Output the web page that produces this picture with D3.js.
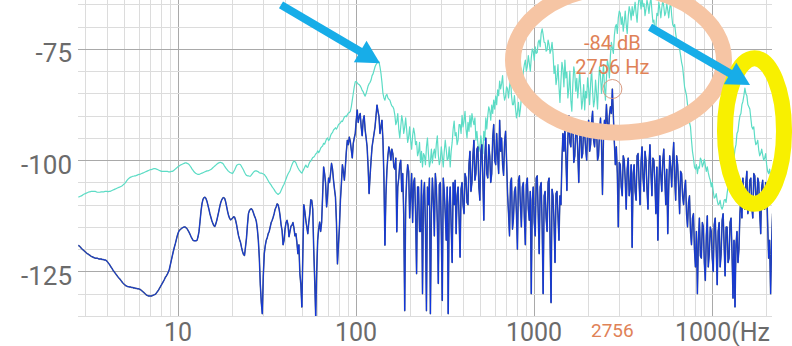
<!DOCTYPE html>
<html>
<head>
<meta charset="utf-8">
<script src="https://cdn.jsdelivr.net/npm/d3@7/dist/d3.min.js"></script>
<style>
  html, body { margin: 0; padding: 0; background: #fff; overflow: hidden; }
  svg { display: block; font-family: Roboto, "Noto Sans", sans-serif; }
</style>
</head>
<body>
<svg id="chart" width="792" height="346"></svg>
<script>
// Spectrum levels in dB, sampled on a log-frequency grid (PTS_PER_DECADE points per decade from F0)
const F0 = 2.756;
const PTS_PER_DECADE = 180;

const tealDb = [
  -108.3,-108.2,-108.1,-108.0,-107.9,-107.7,-107.6,-107.5,-107.4,-107.3,
  -107.2,-107.1,-107.1,-107.0,-107.0,-107.0,-107.0,-107.0,-107.1,-107.2,
  -107.2,-107.2,-107.2,-107.1,-107.1,-107.1,-107.1,-107.0,-107.0,-107.0,
  -107.1,-107.0,-107.0,-106.9,-106.8,-106.7,-106.6,-106.5,-106.4,-106.3,
  -106.2,-106.1,-106.0,-105.9,-105.8,-105.6,-105.4,-105.2,-104.9,-104.6,
  -104.3,-104.1,-103.9,-103.8,-103.7,-103.6,-103.6,-103.5,-103.5,-103.4,
  -103.3,-103.2,-103.2,-103.1,-103.0,-102.9,-102.8,-102.7,-102.6,-102.5,
  -102.4,-102.3,-102.2,-102.1,-102.1,-102.0,-101.9,-101.9,-101.9,-102.0,
  -102.1,-102.2,-102.3,-102.4,-102.5,-102.5,-102.5,-102.5,-102.5,-102.5,
  -102.5,-102.6,-102.6,-102.6,-102.5,-102.5,-102.4,-102.2,-102.0,-101.8,
  -101.6,-101.4,-101.3,-101.1,-101.0,-100.9,-100.8,-100.7,-100.6,-100.6,
  -100.7,-100.8,-101.0,-101.3,-101.6,-102.0,-102.3,-102.6,-102.8,-103.0,
  -103.1,-103.2,-103.2,-103.1,-103.0,-102.9,-102.8,-102.7,-102.6,-102.5,
  -102.4,-102.4,-102.3,-102.2,-102.1,-101.9,-101.7,-101.5,-101.3,-101.1,
  -100.9,-100.7,-100.6,-100.5,-100.5,-100.6,-100.7,-101.0,-101.4,-101.7,
  -102.0,-102.3,-102.5,-102.7,-102.8,-102.9,-103.0,-102.6,-102.2,-101.7,
  -101.2,-101.0,-100.9,-100.9,-101.0,-101.4,-101.8,-102.2,-102.7,-103.1,
  -103.4,-103.5,-103.5,-103.6,-103.6,-103.3,-103.0,-102.7,-102.5,-102.4,
  -102.4,-102.5,-102.6,-102.8,-102.9,-102.9,-103.0,-103.1,-103.2,-103.5,
  -103.8,-104.2,-104.6,-105.0,-105.3,-105.6,-106.0,-106.3,-106.6,-107.0,
  -107.3,-107.5,-107.7,-107.5,-107.3,-106.8,-106.3,-105.8,-105.4,-104.8,
  -104.2,-103.6,-103.1,-102.7,-102.3,-101.6,-101.0,-100.5,-100.2,-100.3,
  -100.6,-101.2,-101.7,-102.1,-102.4,-102.7,-102.9,-102.4,-102.0,-101.5,
  -101.1,-101.5,-101.6,-100.9,-100.4,-100.2,-99.8,-99.4,-99.3,-99.0,
  -98.6,-98.4,-97.9,-98.3,-97.9,-97.3,-97.0,-96.8,-96.2,-96.4,
  -95.8,-95.2,-95.0,-95.6,-95.3,-94.5,-94.0,-93.8,-93.2,-93.0,
  -92.7,-93.0,-92.6,-92.0,-91.8,-91.6,-91.2,-91.3,-90.8,-90.3,
  -90.1,-90.2,-89.8,-89.4,-89.3,-89.0,-88.0,-86.5,-85.0,-83.5,
  -82.4,-82.3,-82.6,-82.9,-83.0,-83.3,-83.7,-84.3,-84.6,-85.2,
  -85.6,-85.0,-84.2,-83.3,-82.8,-82.5,-82.0,-81.0,-80.6,-79.8,
  -79.0,-78.5,-78.2,-77.8,-77.9,-79.0,-80.5,-82.5,-85.0,-86.0,
  -86.5,-85.5,-85.2,-86.0,-86.3,-86.5,-87.2,-87.8,-88.0,-88.5,
  -89.8,-92.0,-91.3,-89.5,-93.0,-95.0,-92.5,-90.0,-91.3,-94.0,
  -92.6,-90.5,-93.2,-96.0,-94.8,-92.5,-95.5,-97.5,-94.5,-92.8,
  -94.0,-96.5,-95.8,-99.0,-98.2,-96.0,-100.5,-98.0,-101.5,-98.5,
  -99.0,-101.0,-97.0,-95.0,-98.6,-101.5,-100.3,-97.5,-100.6,-98.5,
  -97.5,-99.5,-96.3,-94.5,-98.8,-101.0,-100.0,-97.0,-99.2,-101.5,
  -98.0,-95.5,-97.6,-100.0,-99.6,-97.0,-101.5,-98.0,-96.0,-93.0,
  -91.2,-94.5,-93.8,-96.5,-95.5,-92.0,-92.0,-94.0,-89.9,-92.5,
  -91.2,-89.0,-93.0,-95.0,-91.5,-93.5,-90.0,-92.5,-89.5,-91.0,
  -92.0,-90.5,-95.5,-93.5,-96.2,-98.0,-97.0,-94.5,-96.8,-98.5,
  -93.5,-95.5,-90.5,-93.0,-90.0,-88.0,-88.8,-91.0,-87.6,-89.5,
  -86.5,-88.5,-85.6,-87.5,-84.2,-85.5,-82.2,-84.0,-82.8,-81.0,
  -84.8,-86.5,-85.7,-83.5,-84.0,-86.0,-83.5,-81.5,-85.5,-87.5,
  -87.5,-85.5,-88.2,-90.5,-89.2,-87.0,-90.2,-88.5,-86.0,-83.0,
  -80.0,-78.5,-77.5,-80.0,-78.9,-76.5,-78.2,-80.0,-77.0,-75.0,
  -75.5,-77.5,-74.5,-76.0,-75.8,-73.5,-73.0,-74.5,-71.5,-70.5,
  -71.8,-73.5,-73.6,-75.5,-75.2,-73.0,-74.0,-76.0,-75.2,-73.5,
  -76.0,-80.5,-78.8,-83.0,-81.5,-78.5,-83.5,-87.0,-82.2,-78.0,
  -79.5,-83.5,-77.5,-81.5,-80.2,-86.0,-83.8,-80.0,-86.5,-89.0,
  -83.0,-79.0,-80.5,-84.5,-81.6,-86.0,-83.2,-80.0,-84.2,-88.5,
  -86.5,-83.0,-88.7,-84.5,-86.0,-81.5,-84.0,-87.5,-82.7,-79.5,
  -84.5,-88.0,-86.5,-82.0,-85.0,-88.5,-82.8,-79.0,-81.2,-85.0,
  -82.0,-78.5,-83.5,-86.5,-81.5,-77.5,-78.8,-81.5,-76.5,-73.5,
  -74.8,-76.0,-72.0,-70.0,-69.5,-71.5,-68.0,-66.5,-67.0,-69.5,
  -67.8,-71.0,-69.0,-66.5,-69.5,-71.5,-67.8,-65.5,-66.5,-68.5,
  -65.5,-67.5,-66.2,-64.5,-67.0,-69.0,-65.5,-63.5,-64.0,-66.0,
  -63.5,-65.5,-64.8,-67.5,-66.0,-64.0,-65.2,-67.0,-64.8,-63.5,
  -66.5,-69.0,-68.5,-71.5,-70.0,-67.0,-67.5,-64.5,-66.0,-68.0,
  -65.8,-64.0,-65.5,-67.5,-66.8,-64.8,-66.2,-68.0,-65.7,-64.5,
  -67.5,-69.5,-70.0,-69.5,-71.5,-73.0,-73.5,-73.0,-75.0,-76.5,
  -78.0,-79.0,-81.2,-83.5,-84.5,-85.5,-87.5,-90.0,-91.5,-92.5,
  -95.5,-98.0,-99.5,-101.5,-102.0,-101.0,-103.0,-101.5,-101.8,-99.5,
  -100.0,-101.5,-100.8,-99.8,-101.2,-102.5,-101.5,-102.8,-103.8,-104.5,
  -106.0,-105.0,-107.0,-108.5,-108.3,-107.5,-109.0,-110.0,-109.8,-109.0,
  -110.5,-111.0,-110.3,-109.0,-108.8,-109.5,-107.5,-106.0,-105.0,-105.5,
  -102.5,-103.0,-100.5,-99.5,-97.5,-96.5,-94.0,-93.5,-91.5,-90.0,
  -89.5,-87.5,-86.8,-85.5,-83.8,-85.0,-85.5,-87.5,-88.0,-88.5,
  -90.5,-92.5,-93.0,-92.5,-95.0,-96.5,-96.2,-95.5,-97.7,-99.0,
  -98.5,-97.5,-98.8,-100.0,-99.5,-98.5,-101.0,-102.5,-103.0,-102.0,
  -103.5,-104.5,-104.0
];

const blueDb = [
  -119.1,-119.3,-119.5,-119.8,-120.0,-120.2,-120.4,-120.6,-120.8,-121.0,
  -121.1,-121.3,-121.4,-121.6,-121.7,-121.8,-121.9,-122.0,-122.0,-122.0,
  -122.1,-122.2,-122.2,-122.2,-122.3,-122.3,-122.4,-122.4,-122.5,-122.7,
  -123.0,-123.3,-123.6,-124.0,-124.3,-124.7,-125.0,-125.3,-125.6,-125.9,
  -126.2,-126.5,-126.7,-127.0,-127.3,-127.6,-127.8,-128.0,-128.2,-128.3,
  -128.4,-128.4,-128.5,-128.5,-128.6,-128.6,-128.7,-128.7,-128.8,-128.8,
  -128.9,-128.9,-129.0,-129.1,-129.3,-129.5,-129.7,-129.9,-130.1,-130.3,
  -130.4,-130.5,-130.5,-130.5,-130.5,-130.4,-130.3,-130.2,-130.1,-129.8,
  -129.5,-129.2,-128.8,-128.4,-128.0,-127.6,-127.2,-126.8,-126.3,-126.0,
  -125.6,-125.1,-124.5,-123.5,-122.5,-121.5,-120.5,-119.6,-118.8,-117.9,
  -117.0,-116.3,-115.8,-115.6,-115.4,-115.2,-115.1,-115.0,-115.0,-115.2,
  -115.4,-115.8,-116.2,-116.7,-117.2,-117.6,-118.0,-118.1,-118.1,-118.1,
  -118.0,-117.2,-116.0,-113.8,-111.5,-109.8,-108.8,-108.4,-108.3,-108.6,
  -109.2,-110.1,-111.0,-112.0,-112.8,-113.6,-114.2,-114.7,-114.9,-114.3,
  -113.5,-112.5,-111.5,-110.4,-109.5,-108.9,-108.5,-108.4,-108.6,-109.4,
  -110.5,-111.6,-112.5,-113.1,-113.4,-113.2,-113.0,-112.7,-112.8,-113.5,
  -114.5,-115.8,-117.0,-117.8,-118.5,-119.6,-120.5,-121.2,-121.4,-119.5,
  -117.5,-114.5,-112.0,-111.3,-111.0,-110.9,-111.2,-111.8,-112.5,-113.0,
  -113.8,-115.5,-118.0,-122.0,-128.0,-132.0,-134.5,-126.0,-121.0,-119.2,
  -118.0,-117.4,-116.5,-116.0,-115.0,-114.0,-113.5,-112.8,-112.0,-111.0,
  -110.5,-109.8,-110.0,-111.0,-112.5,-114.5,-115.8,-119.0,-118.0,-115.5,
  -114.0,-113.5,-114.5,-117.2,-116.0,-114.8,-114.6,-114.0,-115.2,-117.0,
  -116.5,-118.5,-121.0,-119.0,-125.5,-128.0,-133.0,-121.0,-110.0,-111.5,
  -113.5,-115.0,-116.5,-114.0,-112.0,-108.9,-109.0,-111.0,-120.0,-127.0,
  -135.3,-125.0,-118.0,-115.5,-113.9,-116.0,-114.0,-108.0,-101.5,-103.0,
  -105.2,-110.5,-108.0,-104.0,-105.0,-103.0,-100.7,-102.0,-104.5,-106.5,
  -108.3,-114.0,-123.3,-119.0,-115.0,-109.0,-105.2,-101.0,-102.5,-104.5,
  -101.5,-98.0,-95.5,-96.5,-94.8,-95.8,-97.7,-99.5,-96.2,-95.0,
  -94.0,-91.0,-88.7,-91.5,-90.2,-89.5,-92.5,-94.5,-91.0,-90.0,
  -93.2,-95.0,-97.0,-101.5,-107.5,-103.5,-100.0,-97.0,-95.5,-94.0,
  -92.5,-90.0,-87.6,-89.0,-90.2,-94.0,-92.5,-91.0,-95.5,-104.0,
  -119.1,-108.0,-102.3,-99.0,-97.0,-98.0,-100.0,-97.5,-98.5,-101.5,
  -102.0,-99.5,-116.1,-106.0,-104.0,-101.0,-100.0,-107.0,-103.0,-112.0,
  -133.8,-110.0,-104.0,-101.0,-102.5,-113.0,-108.0,-103.0,-114.0,-105.0,
  -104.0,-112.0,-125.5,-106.0,-106.0,-116.0,-116.0,-104.5,-130.0,-108.0,
  -105.0,-115.0,-133.8,-106.0,-110.0,-104.0,-134.5,-112.0,-104.0,-109.0,
  -117.0,-103.0,-106.0,-114.0,-127.7,-105.5,-105.0,-116.0,-131.5,-104.0,
  -107.0,-112.0,-118.0,-106.0,-134.5,-110.0,-106.0,-115.0,-123.0,-105.0,
  -110.0,-104.5,-116.5,-108.0,-106.0,-113.0,-121.8,-106.5,-105.0,-110.0,
  -112.0,-103.0,-104.0,-109.5,-110.0,-101.0,-98.0,-107.0,-105.0,-99.0,
  -95.5,-104.5,-103.0,-97.5,-97.0,-106.0,-109.0,-98.0,-96.5,-104.0,
  -113.5,-99.5,-95.0,-103.0,-104.0,-96.5,-99.0,-105.0,-103.0,-95.0,
  -92.0,-100.0,-101.0,-94.0,-99.0,-103.0,-91.0,-98.0,-95.0,-101.0,
  -103.4,-96.0,-93.5,-100.0,-107.5,-112.0,-117.0,-105.0,-104.0,-115.5,
  -113.0,-107.0,-106.0,-112.0,-120.0,-104.5,-103.5,-110.0,-115.0,-106.0,
  -105.0,-113.0,-119.0,-105.5,-104.0,-111.0,-113.5,-107.0,-130.0,-109.0,
  -106.0,-114.0,-117.0,-104.0,-103.5,-112.0,-121.0,-106.0,-105.0,-115.0,
  -130.0,-108.0,-107.0,-113.0,-116.0,-105.0,-104.0,-118.0,-132.0,-106.5,
  -108.0,-114.0,-123.0,-107.5,-107.0,-112.5,-118.0,-108.0,-110.0,-100.0,
  -94.0,-98.0,-93.0,-99.5,-106.8,-95.0,-90.0,-96.0,-97.0,-92.0,
  -91.5,-100.5,-99.0,-93.5,-93.0,-98.0,-105.0,-95.0,-92.0,-99.5,
  -98.5,-92.5,-94.0,-97.5,-100.0,-93.0,-91.0,-98.0,-96.5,-91.5,
  -89.0,-95.5,-97.0,-93.0,-92.5,-100.0,-99.0,-94.0,-90.5,-96.0,
  -107.7,-95.0,-91.0,-93.0,-87.5,-92.0,-94.0,-90.0,-88.0,-89.5,
  -84.0,-90.0,-96.0,-101.0,-97.0,-103.0,-115.0,-100.5,-101.0,-106.0,
  -108.0,-99.0,-100.0,-104.5,-111.0,-102.0,-99.5,-108.0,-106.0,-101.0,
  -119.6,-103.0,-101.0,-107.0,-109.0,-99.0,-98.5,-105.0,-110.0,-100.5,
  -97.0,-104.0,-107.0,-98.0,-100.0,-106.5,-111.0,-101.0,-96.5,-103.0,
  -108.0,-99.5,-100.0,-105.0,-112.0,-101.5,-118.0,-106.0,-99.0,-103.5,
  -107.0,-100.0,-97.5,-104.0,-110.0,-102.0,-116.5,-106.0,-99.0,-101.5,
  -106.0,-100.0,-96.0,-104.0,-109.0,-99.0,-101.0,-106.0,-112.0,-102.5,
  -103.0,-108.0,-110.0,-106.5,-104.5,-112.0,-115.0,-109.5,-108.0,-116.0,
  -119.0,-113.0,-112.0,-120.0,-124.0,-116.0,-130.0,-118.0,-113.0,-121.5,
  -122.0,-114.0,-115.0,-123.0,-127.0,-117.0,-112.5,-124.0,-121.0,-115.0,
  -116.0,-122.0,-125.0,-114.5,-113.0,-120.0,-128.0,-116.0,-114.0,-124.0,
  -121.0,-113.5,-112.0,-119.0,-126.0,-115.0,-115.0,-123.0,-122.0,-114.0,
  -113.0,-121.0,-131.0,-118.0,-133.0,-119.0,-116.0,-123.0,-120.0,-112.0,
  -108.0,-113.0,-104.0,-109.5,-111.0,-105.0,-102.5,-112.0,-109.0,-104.5,
  -104.0,-110.5,-113.0,-103.0,-103.5,-108.0,-110.0,-104.0,-105.0,-112.0,
  -116.5,-106.0,-104.5,-110.0,-111.0,-105.0,-106.0,-114.0,-122.0,-118.0,
  -130.0,-119.0,-112.0
];

// Axis ticks and labels
const yTicks = [-75, -100, -125];
const xTicks = [10, 100, 1000];
const xTickLabels = ["10", "100", "1000"];
const unitTick = { f: 10000, label: "1000(Hz" };

// Peak readout
const peak = { f: 2756, db: -84 };

// Highlight shapes, given as frequency / level bounds
const ringPeach = { f: [762, 11680], db: [-61.2, -93.8] };
const ringYellow = { f: [11830, 25380], db: [-77.1, -109.8] };
const arrows = [
  { from: [37.9, -65.1], to: [136.4, -78.2] },
  { from: [4484, -70.1], to: [16350, -83.1] }
];

const plot = { left: 78, right: 772, top: 0, bottom: 316 };

const x = d3.scaleLog().domain([2.743, 21730]).range([plot.left, plot.right]);
const y = d3.scaleLinear().domain([-135, -64]).range([plot.bottom, plot.top]);

const freqs = tealDb.map((_, i) => F0 * Math.pow(10, i / PTS_PER_DECADE));

const svg = d3.select("#chart");

svg.append("defs").append("clipPath").attr("id", "plotClip")
  .append("rect")
  .attr("x", plot.left).attr("y", plot.top)
  .attr("width", plot.right - plot.left).attr("height", plot.bottom - plot.top);

// Grid
const grid = svg.append("g");
const vLines = [];
[1, 10, 100, 1000, 10000].forEach(d => {
  for (let k = 1; k <= 9; k++) {
    const f = k * d;
    if (f >= x.domain()[0] && f <= x.domain()[1]) vLines.push({ f, major: k === 1 });
  }
});
grid.selectAll("line.v").data(vLines).join("line")
  .attr("x1", d => Math.round(x(d.f)) + 0.5).attr("x2", d => Math.round(x(d.f)) + 0.5)
  .attr("y1", plot.top).attr("y2", plot.bottom)
  .attr("stroke", d => d.major ? "#a9a9a9" : "#dcdcdc").attr("stroke-width", 1);

const hLines = d3.range(-135, -64, 5).map(v => ({ v, major: yTicks.includes(v) }));
grid.selectAll("line.h").data(hLines).join("line")
  .attr("x1", plot.left).attr("x2", plot.right)
  .attr("y1", d => Math.round(y(d.v)) + 0.5).attr("y2", d => Math.round(y(d.v)) + 0.5)
  .attr("stroke", d => d.major ? "#a9a9a9" : "#dcdcdc").attr("stroke-width", 1);

// Traces
const line = d3.line().x(d => x(d[0])).y(d => y(d[1]));
const traces = svg.append("g").attr("clip-path", "url(#plotClip)");

traces.append("path")
  .datum(freqs.map((f, i) => [f, tealDb[i]]))
  .attr("d", line).attr("fill", "none")
  .attr("stroke", "#5cdcc5").attr("stroke-width", 1.2).attr("stroke-linejoin", "round");

const blueData = freqs.map((f, i) => [f, blueDb[i]]);
traces.append("path").datum(blueData)
  .attr("d", line).attr("fill", "none")
  .attr("stroke", "#46587a").attr("stroke-width", 1.5).attr("stroke-linejoin", "round");
traces.append("path").datum(blueData)
  .attr("d", line).attr("fill", "none")
  .attr("stroke", "#0f34e2").attr("stroke-width", 0.9).attr("stroke-linejoin", "round");

// Axis labels
const labelColor = "#6b6b6b";
svg.append("g").selectAll("text").data(yTicks).join("text")
  .attr("x", 72).attr("y", d => y(d) + 13.5)
  .attr("text-anchor", "end").attr("font-size", 26).attr("fill", labelColor)
  .text(d => d);

svg.append("g").selectAll("text").data(xTicks).join("text")
  .attr("x", d => x(d)).attr("y", 341)
  .attr("text-anchor", "middle").attr("font-size", 25).attr("fill", labelColor)
  .text((d, i) => xTickLabels[i]);

svg.append("text")
  .attr("x", x(unitTick.f) - 37).attr("y", 341)
  .attr("text-anchor", "start").attr("font-size", 25).attr("fill", labelColor)
  .text(unitTick.label);

// Peak readout
const orange = "#df8257";
svg.append("text")
  .attr("x", x(peak.f)).attr("y", 337)
  .attr("text-anchor", "middle").attr("font-size", 19).attr("fill", orange)
  .text(String(peak.f));

svg.append("circle")
  .attr("cx", x(peak.f)).attr("cy", y(peak.db)).attr("r", 9.5)
  .attr("fill", "none").attr("stroke", "#d99a80").attr("stroke-width", 1);

svg.append("text")
  .attr("x", x(peak.f)).attr("y", y(peak.db) - 39)
  .attr("text-anchor", "middle").attr("font-size", 20).attr("fill", orange)
  .text(`${peak.db} dB`);
svg.append("text")
  .attr("x", x(peak.f)).attr("y", y(peak.db) - 15)
  .attr("text-anchor", "middle").attr("font-size", 20).attr("fill", orange)
  .text(`${peak.f} Hz`);

// Highlight rings
function ring(r, color) {
  const x1 = x(r.f[0]), x2 = x(r.f[1]);
  const y1 = y(r.db[0]), y2 = y(r.db[1]);
  svg.append("ellipse")
    .attr("cx", (x1 + x2) / 2).attr("cy", (y1 + y2) / 2)
    .attr("rx", Math.abs(x2 - x1) / 2).attr("ry", Math.abs(y2 - y1) / 2)
    .attr("fill", "none").attr("stroke", color).attr("stroke-width", 16);
}
ring(ringPeach, "#f6c5a4");
ring(ringYellow, "#f8f000");

// Arrows
const arrowColor = "#17ade8";
arrows.forEach(a => {
  const x0 = x(a.from[0]), y0 = y(a.from[1]);
  const x1 = x(a.to[0]), y1 = y(a.to[1]);
  const ang = Math.atan2(y1 - y0, x1 - x0);
  const headLen = 23, headHalf = 12.5;
  const bx = x1 - headLen * Math.cos(ang), by = y1 - headLen * Math.sin(ang);
  svg.append("line")
    .attr("x1", x0).attr("y1", y0)
    .attr("x2", bx + 2 * Math.cos(ang)).attr("y2", by + 2 * Math.sin(ang))
    .attr("stroke", arrowColor).attr("stroke-width", 8);
  const px = -Math.sin(ang), py = Math.cos(ang);
  svg.append("path")
    .attr("d", `M${x1},${y1}L${bx + px * headHalf},${by + py * headHalf}L${bx - px * headHalf},${by - py * headHalf}Z`)
    .attr("fill", arrowColor);
});
</script>
</body>
</html>
